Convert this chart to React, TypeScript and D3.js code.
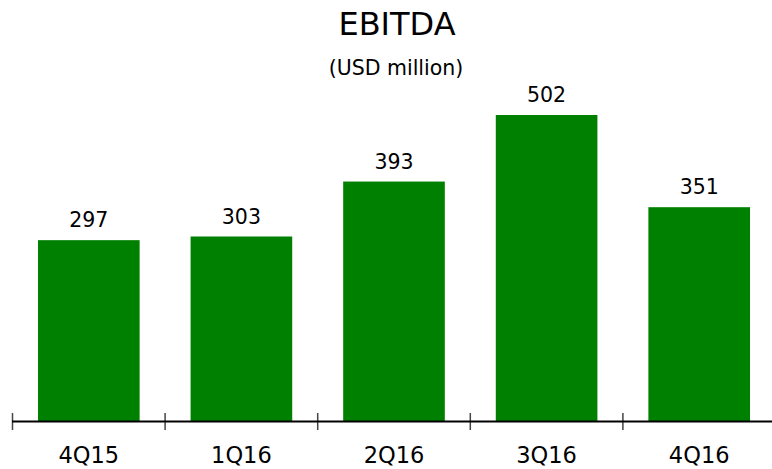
import React from "react";
import * as d3 from "d3";

const categories = ["4Q15", "1Q16", "2Q16", "3Q16", "4Q16"];
const values = [297, 303, 393, 502, 351];
const title = "EBITDA";
const subtitle = "(USD million)";

const W = 772;
const H = 469;
const FONT = "'DejaVu Sans', Verdana, sans-serif";

export default function App() {
  const baseline = 421.5;
  const x = d3.scaleBand<string>().domain(categories).range([12.5, 775.5]).paddingInner(0).paddingOuter(0);
  const y = d3.scaleLinear().domain([0, 502]).range([baseline, 115]);
  const step = x.step();
  const inset = step * 0.167;
  const bw = step - 2 * inset;

  return (
    <svg width={W} height={H} style={{ position: "absolute", left: 0, top: 0 }}>
      <rect width={W} height={H} fill="#ffffff" />
      <text x={W / 2 + 11} y={35} textAnchor="middle" fontFamily={FONT} fontSize={32} fill="#000">
        {title}
      </text>
      <text x={W / 2 + 10} y={75} textAnchor="middle" fontFamily={FONT} fontSize={20.5} fill="#000">
        {subtitle}
      </text>
      {categories.map((c, i) => {
        const x0 = (x(c) as number) + inset;
        const yt = y(values[i]);
        return (
          <g key={c}>
            <rect x={x0} y={yt} width={bw} height={baseline - yt} fill="#008000" />
            <text x={x0 + bw / 2} y={yt - 13} textAnchor="middle" fontFamily={FONT} fontSize={20.5} fill="#000">
              {values[i]}
            </text>
            <text x={x0 + bw / 2} y={463} textAnchor="middle" fontFamily={FONT} fontSize={22.5} fill="#000">
              {c}
            </text>
            <line x1={x(c) as number} x2={x(c) as number} y1={413} y2={430} stroke="#444" strokeWidth={1.5} />
          </g>
        );
      })}
      <line x1={12} x2={W} y1={baseline} y2={baseline} stroke="#000" strokeWidth={2} />
    </svg>
  );
}
